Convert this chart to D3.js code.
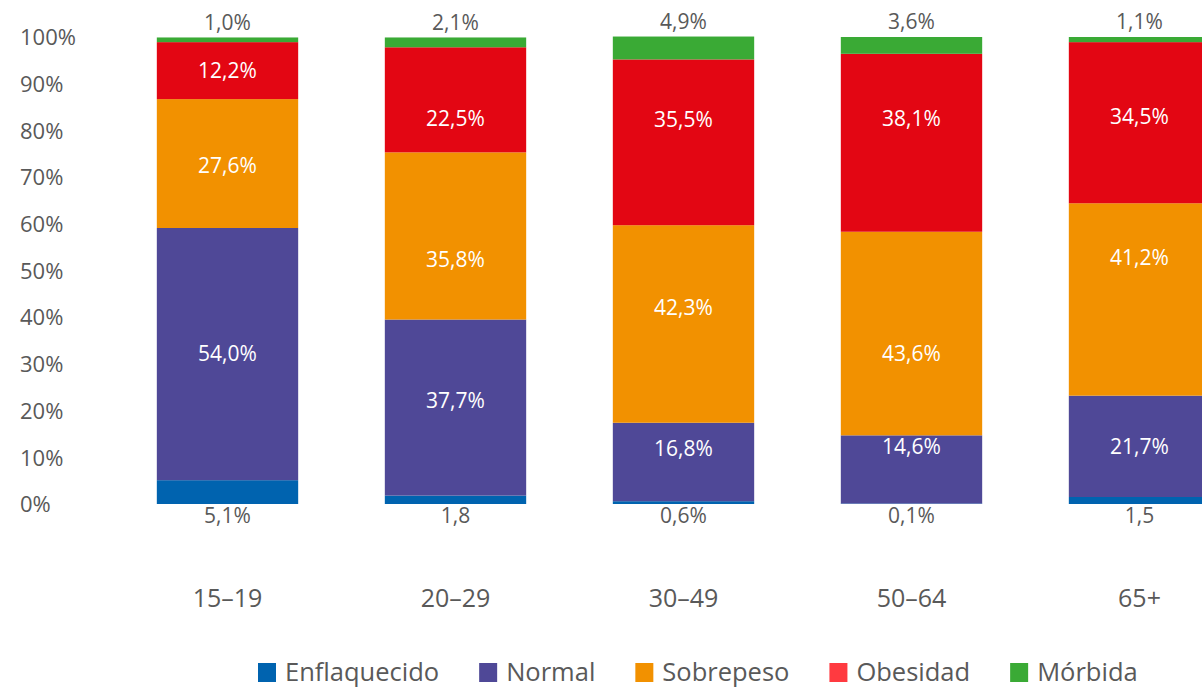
<!DOCTYPE html>
<html>
<head>
<meta charset="utf-8">
<script src="https://cdn.jsdelivr.net/npm/d3@7"></script>
<style>
  html, body { margin: 0; padding: 0; background: #fff; }
  svg { display: block; font-family: "Open Sans", "Noto Sans", sans-serif; }
</style>
</head>
<body>
<svg id="chart" width="1202" height="687"></svg>
<script>
// Age groups and nutritional status shares (%)
const ageGroups = ["15-19", "20-29", "30-49", "50-64", "65+"];
const categoryLabels = ["15–19", "20–29", "30–49", "50–64", "65+"];
const seriesNames = ["Enflaquecido", "Normal", "Sobrepeso", "Obesidad", "Mórbida"];

const enflaquecido = [5.1, 1.8, 0.6, 0.1, 1.5];
const normal       = [54.0, 37.7, 16.8, 14.6, 21.7];
const sobrepeso    = [27.6, 35.8, 42.3, 43.6, 41.2];
const obesidad     = [12.2, 22.5, 35.5, 38.1, 34.5];
const morbida      = [1.0, 2.1, 4.9, 3.6, 1.1];

// Value labels printed without the percent sign
const noPercentSign = [false, true, false, false, true];

const yTicks = [0, 10, 20, 30, 40, 50, 60, 70, 80, 90, 100];

const barColors    = ["#0063af", "#4f4897", "#f29100", "#e30613", "#3aaa35"];
const legendColors = ["#0063af", "#4f4897", "#f29100", "#ff3a40", "#3aaa35"];
const textGray = "#595959";

const seriesValues = [enflaquecido, normal, sobrepeso, obesidad, morbida];
const rows = ageGroups.map((g, i) => {
  const r = { group: g };
  seriesNames.forEach((s, j) => { r[s] = seriesValues[j][i]; });
  return r;
});

const svg = d3.select("#chart");

const x = d3.scaleBand()
  .domain(ageGroups)
  .range([113.5, 1253.5])
  .paddingInner(0.38)
  .paddingOuter(0.19);

const y = d3.scaleLinear().domain([0, 100]).range([504, 37]);

const stack = d3.stack().keys(seriesNames);
const layers = stack(rows);

// Bars (the last one runs past the right edge of the canvas)
svg.append("g")
  .selectAll("g")
  .data(layers)
  .join("g")
  .attr("fill", (d, i) => barColors[i])
  .selectAll("rect")
  .data(d => d)
  .join("rect")
  .attr("x", d => x(d.data.group))
  .attr("width", x.bandwidth())
  .attr("y", d => y(d[1]))
  .attr("height", d => y(d[0]) - y(d[1]));

// Y axis tick labels
const yAxis = svg.append("g")
  .attr("transform", "translate(20,0)")
  .call(d3.axisRight(y).tickValues(yTicks).tickSize(0).tickPadding(0).tickFormat(d => d + "%"));
yAxis.select(".domain").remove();
yAxis.selectAll("text")
  .attr("fill", textGray)
  .attr("font-size", 22)
  .attr("font-family", "Open Sans, Noto Sans, sans-serif")
  .attr("dy", "0.35em");

// Category axis labels
const xAxis = svg.append("g")
  .attr("transform", "translate(0,598)")
  .call(d3.axisBottom(x).tickSize(0).tickPadding(0).tickFormat((d, i) => categoryLabels[i]));
xAxis.select(".domain").remove();
xAxis.selectAll("text")
  .attr("fill", textGray)
  .attr("font-size", 25)
  .attr("font-family", "Open Sans, Noto Sans, sans-serif")
  .attr("dy", "0.35em");

// Value labels
const fmt = v => d3.format(".1f")(v).replace(".", ",");
// Manual vertical adjustments for inner labels (pixels), by series then group
const labelShift = {
  "Normal":    { "20-29": -7, "30-49": -13, "50-64": -23 },
  "Sobrepeso": { "15-19": 2, "20-29": 24, "30-49": -16, "50-64": 20, "65+": -42 },
  "Obesidad":  { "20-29": 19, "30-49": -23, "50-64": -24, "65+": -6 }
};

const labels = svg.append("g").attr("text-anchor", "middle").attr("font-size", 21);
layers.forEach((layer, si) => {
  const name = seriesNames[si];
  layer.forEach((d, gi) => {
    const v = d.data[name];
    const cx = x(d.data.group) + x.bandwidth() / 2;
    let cy, color, txt = fmt(v) + "%";
    if (si === 0) {
      cy = y(0) + 12;
      color = textGray;
      if (noPercentSign[gi]) txt = fmt(v);
    } else if (si === seriesNames.length - 1) {
      cy = y(d[1]) - 15;
      color = textGray;
    } else {
      cy = (y(d[0]) + y(d[1])) / 2 + ((labelShift[name] || {})[d.data.group] || 0);
      color = "#ffffff";
    }
    labels.append("text")
      .attr("x", cx)
      .attr("y", cy)
      .attr("dy", "0.35em")
      .attr("fill", color)
      .text(txt);
  });
});

// Legend
const legend = svg.append("g").attr("transform", "translate(258,672)");
let lx = 0;
seriesNames.forEach((name, i) => {
  const item = legend.append("g").attr("transform", `translate(${lx},0)`);
  item.append("rect")
    .attr("x", 0).attr("y", -9)
    .attr("width", 18).attr("height", 19)
    .attr("fill", legendColors[i]);
  const t = item.append("text")
    .attr("x", 27)
    .attr("dy", "0.35em")
    .attr("font-size", 25.5)
    .attr("fill", textGray)
    .text(name);
  lx += 27 + t.node().getComputedTextLength() + 40;
});
</script>
</body>
</html>
